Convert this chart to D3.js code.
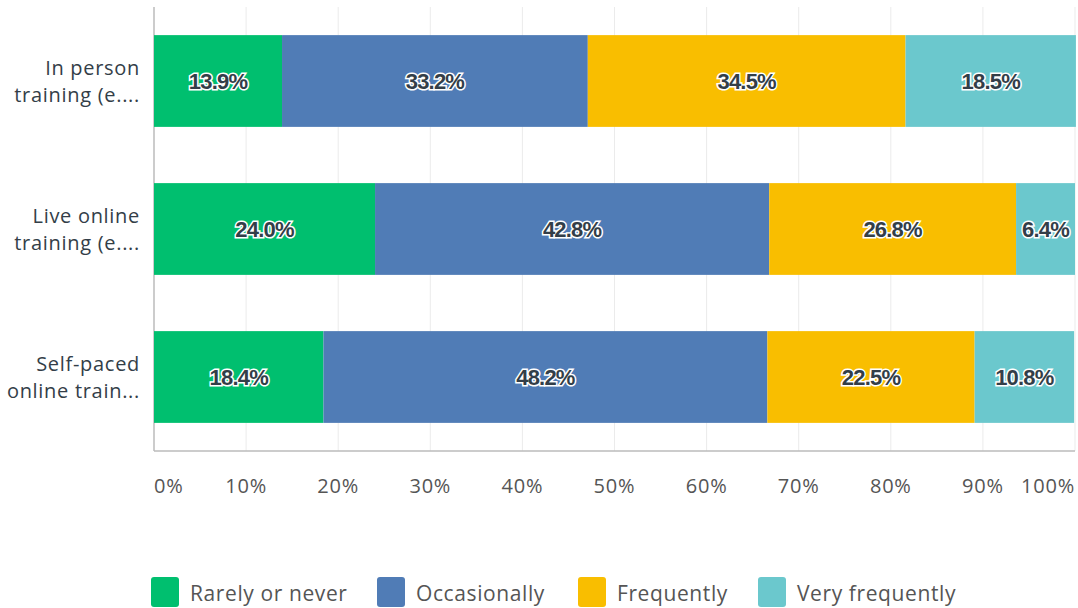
<!DOCTYPE html>
<html lang="en">
<head>
    <meta charset="UTF-8">
    <title>Training frequency</title>
    <script src="https://d3js.org/d3.v7.min.js"></script>
    <style>
        body { margin: 0; background: #fff; font-family: "Open Sans", sans-serif; }
        .value-label { font-family: "Liberation Sans", Arial, sans-serif; font-weight: bold; font-size: 22px; letter-spacing: -0.8px; fill: #333e48; stroke: #fff; stroke-width: 3px; paint-order: stroke; }
        .cat-label { font-size: 20px; letter-spacing: 0.7px; fill: #333e48; }
        .tick-label { font-size: 20px; letter-spacing: 0.8px; fill: #555; }
        .legend-label { font-size: 21px; letter-spacing: 0.6px; fill: #555; }
    </style>
</head>
<body>
    <svg width="1078" height="608"></svg>
    <script>
        // data
        const categories = ["In person training (e....", "Live online training (e....", "Self-paced online train..."];
        const categoryLines = [["In person", "training (e...."], ["Live online", "training (e...."], ["Self-paced", "online train..."]];
        const series = ["Rarely or never", "Occasionally", "Frequently", "Very frequently"];
        const rarely = [13.9, 24.0, 18.4];
        const occasionally = [33.2, 42.8, 48.2];
        const frequently = [34.5, 26.8, 22.5];
        const veryFrequently = [18.5, 6.4, 10.8];
        const ticks = [0, 10, 20, 30, 40, 50, 60, 70, 80, 90, 100];
        const colors = ["#00bf6f", "#507cb6", "#f9be00", "#6bc8cd"];

        const table = categories.map((c, i) => ({
            cat: c,
            "Rarely or never": rarely[i],
            "Occasionally": occasionally[i],
            "Frequently": frequently[i],
            "Very frequently": veryFrequently[i]
        }));

        const svg = d3.select("svg");
        const plotLeft = 154, plotRight = 1075, plotTop = 7, plotBottom = 451;

        const x = d3.scaleLinear().domain([0, 100]).range([plotLeft, plotRight]);
        const y = d3.scaleBand().domain(categories).range([plotTop, plotBottom]).paddingInner(0.38).paddingOuter(0.19);
        const color = d3.scaleOrdinal().domain(series).range(colors);

        // grid
        svg.append("g").selectAll("line")
            .data(ticks.slice(1))
            .join("line")
            .attr("x1", d => x(d)).attr("x2", d => x(d))
            .attr("y1", plotTop).attr("y2", plotBottom)
            .attr("stroke", "#ebebeb").attr("stroke-width", 1);

        // axis lines
        svg.append("line").attr("x1", plotLeft).attr("x2", plotLeft).attr("y1", plotTop).attr("y2", plotBottom)
            .attr("stroke", "#bbb").attr("stroke-width", 1.5);
        svg.append("line").attr("x1", plotLeft).attr("x2", plotRight).attr("y1", plotBottom).attr("y2", plotBottom)
            .attr("stroke", "#bbb").attr("stroke-width", 1.5);

        // stacked bars
        const stacked = d3.stack().keys(series)(table);
        const layers = svg.append("g").selectAll("g")
            .data(stacked)
            .join("g")
            .attr("fill", d => color(d.key));

        layers.selectAll("rect")
            .data(d => d)
            .join("rect")
            .attr("x", d => x(d[0]))
            .attr("y", d => y(d.data.cat))
            .attr("width", d => x(d[1]) - x(d[0]))
            .attr("height", y.bandwidth());

        layers.selectAll("text")
            .data(d => d.map(v => ({ v: v, key: d.key })))
            .join("text")
            .attr("class", "value-label")
            .attr("x", d => (x(d.v[0]) + x(d.v[1])) / 2)
            .attr("y", d => y(d.v.data.cat) + y.bandwidth() / 2)
            .attr("dy", "0.36em")
            .attr("text-anchor", "middle")
            .text(d => d.v.data[d.key].toFixed(1) + "%");

        // category labels
        svg.append("g").selectAll("text")
            .data(categories)
            .join("text")
            .attr("class", "cat-label")
            .attr("text-anchor", "end")
            .attr("x", 140)
            .attr("y", d => y(d) + y.bandwidth() / 2)
            .each(function (d, i) {
                const t = d3.select(this);
                categoryLines[i].forEach((line, j) => {
                    t.append("tspan").attr("x", 140).attr("dy", j === 0 ? "-0.32em" : "1.35em").text(line);
                });
            });

        // x tick labels
        svg.append("g").selectAll("text")
            .data(ticks)
            .join("text")
            .attr("class", "tick-label")
            .attr("x", d => x(d))
            .attr("y", 493)
            .attr("text-anchor", (d, i) => i === 0 ? "start" : (i === ticks.length - 1 ? "end" : "middle"))
            .text(d => d + "%");

        // legend
        const legendX = [151, 377, 578, 758];
        const legend = svg.append("g").selectAll("g")
            .data(series)
            .join("g")
            .attr("transform", (d, i) => `translate(${legendX[i]},577)`);
        legend.append("rect")
            .attr("width", 28).attr("height", 30).attr("rx", 3)
            .attr("fill", d => color(d));
        legend.append("text")
            .attr("class", "legend-label")
            .attr("x", 39).attr("y", 16).attr("dy", "0.36em")
            .text(d => d);
    </script>
</body>
</html>
